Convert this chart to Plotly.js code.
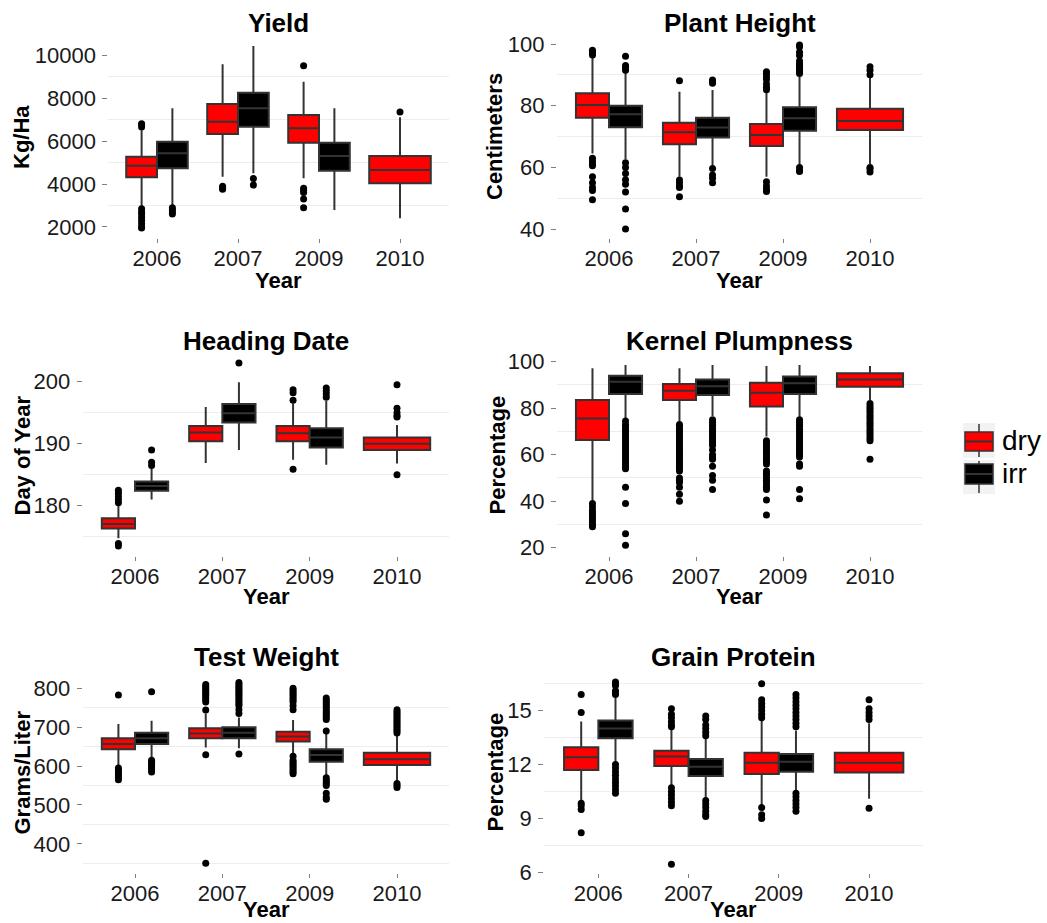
<!DOCTYPE html>
<html>
<head>
<meta charset="utf-8">
<script src="https://cdn.plot.ly/plotly-3.0.1.min.js"></script>
<style>html,body{margin:0;padding:0;background:#fff;}#chart{width:1047px;height:923px;}</style>
</head>
<body>
<div id="chart"></div>
<script>
const years = ['2006', '2007', '2009', '2010'];
const groups = ['dry', 'irr'];

// box stats per year: [lower whisker, q1, median, q3, upper whisker]
const yieldDry = [[2950, 4310, 4850, 5270, 6500], [4340, 6325, 6900, 7720, 9565], [4263, 5920, 6590, 7208, 8757], [2405, 4032, 4650, 5302, 7100]];
const yieldIrr = [[3020, 4730, 5427, 5967, 7519], [4497, 6665, 7519, 8245, 10417], [2790, 4618, 5302, 5920, 7519]];
const yieldDryOut = [[6650, 6750, 6800, 2850, 2700, 2600, 2450, 2300, 2150, 2000, 1950], [3900, 3800, 3750], [9500, 3800, 3700, 3600, 3300, 2900], [7350]];
const yieldIrrOut = [[2900, 2800, 2700, 2600], [4250, 3950], []];

const heightDry = [[64.5, 76.1, 80.2, 84.0, 95.5], [57, 67.5, 71.4, 74.5, 84.5], [57, 66.9, 70.5, 74.1, 84.5], [61, 72.1, 75, 79, 89]];
const heightIrr = [[62.6, 73, 77.2, 80, 91], [60.2, 69.7, 72.9, 76.1, 85.1], [60.8, 71.9, 75.9, 79.5, 89.4]];
const heightDryOut = [[98, 97.5, 97, 96.4, 63, 62, 61, 60.5, 57, 55, 53.5, 52.5, 49.5], [88.1, 55.9, 55, 54, 53.5, 50.5], [91, 90.5, 89.5, 88.5, 87, 86, 85.2, 55.3, 54, 53, 52.2], [92.6, 91.5, 90, 60, 59.5, 58.5]];
const heightIrrOut = [[96, 93, 92.5, 91.5, 61.5, 60, 58, 56, 54.5, 52, 46.5, 40], [88.3, 87.8, 87.3, 59.6, 57.5, 56.5, 55], [99.7, 99, 97.3, 96.3, 94.5, 93.7, 93, 92.5, 91.8, 91, 90.4, 60, 59, 58.7]];

const headingDry = [[174.75, 176.35, 177.05, 178.0, 180.1], [186.9, 190.4, 191.8, 192.85, 195.9], [187.4, 190.4, 191.7, 192.85, 196.5], [186.8, 189, 190, 191, 193]];
const headingIrr = [[181, 182.4, 183.2, 183.9, 186], [189, 193.4, 194.9, 196.4, 199.9], [186.6, 189.4, 191, 192.5, 196.9]];
const headingDryOut = [[182.5, 182, 181.5, 181, 180.5, 173.9, 173.5], [], [198.7, 198.2, 197, 185.9], [199.5, 195.7, 195, 194.5, 194.3, 185]];
const headingIrrOut = [[189, 187, 186.5], [203], [199, 198.5, 198, 197.5]];

const plumpDry = [[40.5, 66.3, 75.6, 83.5, 97.2], [74.2, 83.5, 87.5, 90.4, 97.2], [67.8, 80.7, 86.7, 91, 98.2], [83.5, 89.2, 92.4, 95, 98.2]];
const plumpIrr = [[75.6, 86.1, 91.4, 94, 98.6], [76.6, 85.7, 89.5, 92.4, 98.6], [76.3, 86.1, 90.7, 93.6, 98.6]];
const plumpDryOut = [[39, 37.5, 36, 35, 34, 33, 32, 31, 30, 29],
  [73, 72, 71, 70, 69, 68, 67, 66, 65, 64, 63, 62, 61, 60, 59, 58, 57, 56, 55, 54, 53, 50, 49, 48, 46, 43, 40],
  [66, 65, 64, 63, 62, 61, 60, 59, 58, 57, 56, 53, 52, 51, 50, 49, 48, 47, 46, 45, 40.5, 34],
  [82, 81, 80, 79, 78, 77, 76, 75, 74, 73, 72, 71, 70, 69, 68, 67, 66, 58]];
const plumpIrrOut = [[74.5, 73, 72, 71, 70, 69, 68, 67, 66, 65, 64, 63, 62, 61, 60, 59, 58, 57, 56, 55, 54, 46, 39, 26, 21],
  [75, 74, 73, 72, 71, 70, 69, 68, 67, 66, 65, 64, 62, 60, 59, 58, 55, 51, 49, 45],
  [75, 74, 73, 72, 71, 70, 69, 68, 67, 66, 65, 64, 63, 62, 61, 60, 59, 56, 55, 45, 41]];

const weightDry = [[598.5, 643, 657, 671.5, 708], [648, 671.5, 684, 697, 735], [633, 663, 676, 688.5, 718.5], [560, 603, 617.5, 634.5, 682]];
const weightIrr = [[617.5, 657, 671.5, 686, 716.7], [646, 671.5, 686, 700, 725], [577, 611, 628.5, 643, 684]];
const weightDryOut = [[783, 595, 590, 585, 580, 575, 570, 565],
  [810, 805, 800, 795, 790, 785, 780, 775, 770, 765, 744, 629, 350],
  [800, 795, 790, 785, 780, 775, 770, 765, 755, 745, 625, 615, 610, 605, 600, 595, 590, 585, 580],
  [745, 740, 735, 730, 725, 720, 715, 710, 705, 700, 695, 690, 685, 555, 550, 545]];
const weightIrrOut = [[791, 615, 610, 605, 600, 595, 590, 585],
  [815, 810, 805, 800, 795, 790, 785, 780, 775, 770, 765, 760, 755, 745, 735, 631],
  [775, 770, 765, 760, 755, 750, 745, 740, 735, 730, 725, 720, 690, 570, 565, 560, 555, 550, 530, 520, 515]];

const proteinDry = [[9.93, 11.7, 12.4, 12.96, 14.4], [10.77, 11.92, 12.44, 12.77, 14.0], [9.75, 11.47, 12.1, 12.66, 14.45], [10.1, 11.55, 12.1, 12.66, 14.3]];
const proteinIrr = [[12.16, 13.46, 14.0, 14.45, 15.7], [10.1, 11.36, 11.88, 12.3, 13.46], [10.5, 11.6, 12.16, 12.59, 13.9]];
const proteinDryOut = [[15.9, 14.9, 9.85, 9.7, 9.5, 8.2],
  [15.1, 14.8, 14.6, 14.4, 14.2, 14.1, 10.7, 10.5, 10.3, 10.1, 9.9, 9.7, 6.45],
  [16.5, 15.6, 15.4, 15.2, 15.0, 14.8, 14.6, 9.6, 9.2, 9.0],
  [15.6, 15.1, 14.9, 14.7, 14.5, 9.57]];
const proteinIrrOut = [[16.6, 16.5, 16.4, 16.1, 16.0, 15.9, 12.0, 11.8, 11.6, 11.4, 11.2, 11.0, 10.8, 10.6, 10.4],
  [14.7, 14.5, 14.2, 14.0, 13.8, 13.6, 10.0, 9.8, 9.6, 9.4, 9.2, 9.1],
  [15.9, 15.7, 15.5, 15.3, 15.1, 14.9, 14.7, 14.5, 14.3, 14.1, 10.4, 10.2, 10.0, 9.8, 9.6, 9.4]];

const panelTitles = ['Yield', 'Plant Height', 'Heading Date', 'Kernel Plumpness', 'Test Weight', 'Grain Protein'];
const yTitles = ['Kg/Ha', 'Centimeters', 'Day of Year', 'Percentage', 'Grams/Liter', 'Percentage'];
const xTitle = 'Year';

// ---- layout config (pixels) ----
const W = 1047, H = 923;
const panels = [
  {dry: yieldDry, irr: yieldIrr, dryOut: yieldDryOut, irrOut: yieldIrrOut, px: [108.4, 448.6], py: [36, 238], range: [1488, 10884], dtick: 2000, mtick0: 1000, titleY: 23, xtY: 280, ytX: 22},
  {dry: heightDry, irr: heightIrr, dryOut: heightDryOut, irrOut: heightIrrOut, px: [556.8, 922.2], py: [36, 238], range: [37.1, 102.6], dtick: 20, mtick0: 10, titleY: 23, xtY: 280, ytX: 495},
  {dry: headingDry, irr: headingIrr, dryOut: headingDryOut, irrOut: headingIrrOut, px: [82.6, 449.4], py: [355, 556], range: [171.9, 204.3], dtick: 10, mtick0: 5, titleY: 341, xtY: 596, ytX: 22},
  {dry: plumpDry, irr: plumpIrr, dryOut: plumpDryOut, irrOut: plumpIrrOut, px: [556.8, 922.2], py: [355, 556], range: [16.4, 102.9], dtick: 20, mtick0: 10, titleY: 341, xtY: 596, ytX: 497},
  {dry: weightDry, irr: weightIrr, dryOut: weightDryOut, irrOut: weightIrrOut, px: [82.6, 449.4], py: [672, 873], range: [325, 842], dtick: 100, mtick0: 50, titleY: 657, xtY: 909, ytX: 22},
  {dry: proteinDry, irr: proteinIrr, dryOut: proteinDryOut, irrOut: proteinIrrOut, px: [544.2, 923.2], py: [672, 873], range: [5.96, 17.15], dtick: 3, mtick0: 1.5, titleY: 657, xtY: 909, ytX: 495}
];

const FONT = '"Liberation Sans", Arial, Helvetica, sans-serif';
const fills = {dry: '#FF0000', irr: '#000000'};
const OUT = '#333333';
const dodge = 0.19, boxW = 0.38;

const traces = [];
const layout = {
  width: W, height: H,
  margin: {l: 0, r: 0, t: 0, b: 0},
  paper_bgcolor: '#ffffff', plot_bgcolor: '#ffffff',
  boxmode: 'overlay',
  showlegend: false,
  annotations: [],
  shapes: [],
  font: {family: FONT}
};

function boxTrace(stats, idx, pos, width, group, ax) {
  return {
    type: 'box', name: group, showlegend: false,
    x: idx.map(i => pos(i)),
    lowerfence: idx.map(i => stats[i][0]),
    q1: idx.map(i => stats[i][1]),
    median: idx.map(i => stats[i][2]),
    q3: idx.map(i => stats[i][3]),
    upperfence: idx.map(i => stats[i][4]),
    width: width, whiskerwidth: 0, boxpoints: false,
    fillcolor: fills[group], line: {color: OUT, width: 2},
    xaxis: ax.x, yaxis: ax.y, hoverinfo: 'skip'
  };
}

function outTrace(outs, pos, ax) {
  const xs = [], ys = [];
  outs.forEach((arr, i) => arr.forEach(v => { xs.push(pos(i)); ys.push(v); }));
  return {type: 'scatter', mode: 'markers', x: xs, y: ys, showlegend: false,
    marker: {color: '#000', size: 7}, xaxis: ax.x, yaxis: ax.y, hoverinfo: 'skip'};
}

panels.forEach((p, k) => {
  const n = k + 1;
  const ax = {x: 'x' + (k === 0 ? '' : n), y: 'y' + (k === 0 ? '' : n)};
  const xKey = 'xaxis' + (k === 0 ? '' : n), yKey = 'yaxis' + (k === 0 ? '' : n);
  traces.push(boxTrace(p.dry, [0, 1, 2], i => i - dodge, boxW, 'dry', ax));
  traces.push(boxTrace(p.dry, [3], i => i, boxW * 2, 'dry', ax));
  traces.push(boxTrace(p.irr, [0, 1, 2], i => i + dodge, boxW, 'irr', ax));
  traces.push(outTrace(p.dryOut, i => (i < 3 ? i - dodge : i), ax));
  traces.push(outTrace(p.irrOut, i => i + dodge, ax));

  layout[xKey] = {
    domain: [p.px[0] / W, p.px[1] / W], anchor: ax.y,
    range: [-0.6, 3.6], tickmode: 'array', tickvals: years.map((_, i) => i), ticktext: years,
    ticks: 'outside', ticklen: 4, tickwidth: 1, tickcolor: '#7f7f7f', ticklabelstandoff: -3,
    showgrid: false, zeroline: false, showline: false, fixedrange: true,
    tickfont: {family: FONT, size: 22, color: '#1a1a1a'}
  };
  layout[yKey] = {
    domain: [1 - p.py[1] / H, 1 - p.py[0] / H], anchor: ax.x,
    range: p.range, tickmode: 'linear', tick0: 0, dtick: p.dtick, tickformat: 'd',
    ticks: 'outside', ticklen: 5, tickwidth: 1, tickcolor: '#7f7f7f', ticklabelstandoff: 2,
    showgrid: false, zeroline: false, showline: false, fixedrange: true,
    minor: {tickmode: 'linear', tick0: p.mtick0, dtick: p.dtick, showgrid: true, gridcolor: '#ededed', gridwidth: 1, ticks: ''},
    tickfont: {family: FONT, size: 22, color: '#1a1a1a'}
  };
  const cx = (p.px[0] + p.px[1]) / 2 / W;
  layout.annotations.push({
    text: '<b>' + panelTitles[k] + '</b>', xref: 'paper', yref: 'paper',
    x: cx, y: 1 - p.titleY / H, xanchor: 'center', yanchor: 'middle',
    showarrow: false, font: {family: FONT, size: 26, color: '#000'}
  });
  layout.annotations.push({
    text: '<b>' + xTitle + '</b>', xref: 'paper', yref: 'paper',
    x: cx, y: 1 - p.xtY / H, xanchor: 'center', yanchor: 'middle',
    showarrow: false, font: {family: FONT, size: 22, color: '#000'}
  });
  layout.annotations.push({
    text: '<b>' + yTitles[k] + '</b>', xref: 'paper', yref: 'paper', textangle: -90,
    x: p.ytX / W, y: 1 - (p.py[0] + p.py[1]) / 2 / H, xanchor: 'center', yanchor: 'middle',
    showarrow: false, font: {family: FONT, size: 22, color: '#000'}
  });
});

// ---- legend (drawn as keys + labels) ----
const legKeys = [{y0: 423, y1: 458, b0: 432, b1: 451}, {y0: 460, y1: 494, b0: 464, b1: 484}];
groups.forEach((g, i) => {
  const k = legKeys[i];
  const px = v => v / W, py = v => 1 - v / H;
  layout.shapes.push({type: 'rect', xref: 'paper', yref: 'paper', x0: px(963), x1: px(995), y0: py(k.y1), y1: py(k.y0), fillcolor: '#f2f2f2', line: {width: 0}, layer: 'above'});
  layout.shapes.push({type: 'line', xref: 'paper', yref: 'paper', x0: px(979), x1: px(979), y0: py(k.y1 - 1), y1: py(k.y0 + 1), line: {color: OUT, width: 1.5}, layer: 'above'});
  layout.shapes.push({type: 'rect', xref: 'paper', yref: 'paper', x0: px(965), x1: px(993), y0: py(k.b1), y1: py(k.b0), fillcolor: fills[g], line: {color: OUT, width: 1.5}, layer: 'above'});
  layout.shapes.push({type: 'line', xref: 'paper', yref: 'paper', x0: px(965), x1: px(993), y0: py((k.b0 + k.b1) / 2), y1: py((k.b0 + k.b1) / 2), line: {color: OUT, width: 2}, layer: 'above'});
  layout.annotations.push({
    text: g, xref: 'paper', yref: 'paper', x: 1000 / W, y: 1 - ((k.b0 + k.b1) / 2 - 1) / H,
    xanchor: 'left', yanchor: 'middle', showarrow: false, font: {family: FONT, size: 28, color: '#000'}
  });
});

Plotly.newPlot('chart', traces, layout, {displayModeBar: false, staticPlot: true});
</script>
</body>
</html>
